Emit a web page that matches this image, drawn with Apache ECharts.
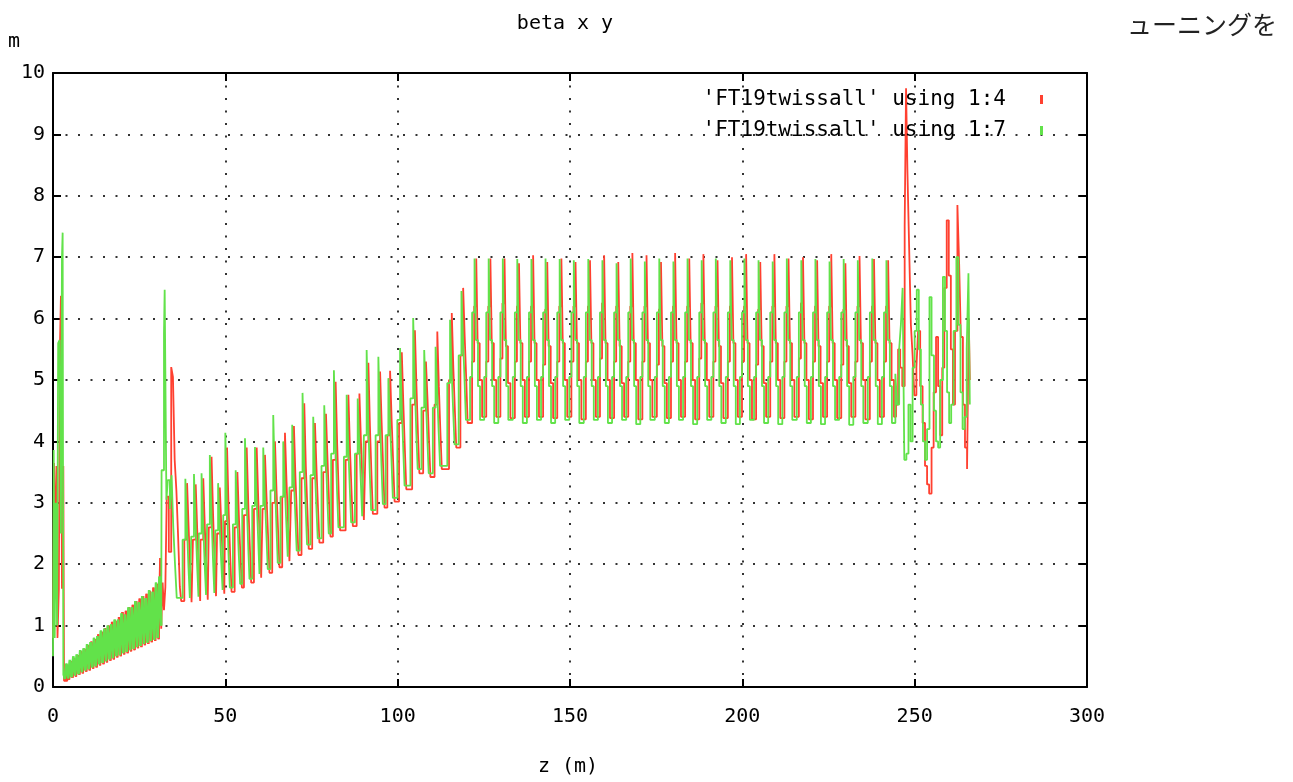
<!DOCTYPE html>
<html>
<head>
<meta charset="utf-8">
<script src="https://cdn.jsdelivr.net/npm/echarts/dist/echarts.min.js"></script>
<style>
html,body{margin:0;padding:0;background:#fff;}
#chart{width:1293px;height:782px;}
</style>
</head>
<body>
<div id="chart"></div>
<script>
// ---- data (z [m], beta [m]) ----
const xTicks = {min: 0, max: 300, step: 50};
const yTicks = {min: 0, max: 10, step: 1};
const seriesNames = ["'FT19twissall' using 1:4", "'FT19twissall' using 1:7"];

// red: column 4
const redStart = [[0,0.8],[0.3,3.65],[0.7,2.2],[1.0,3.6],[1.3,0.8],[1.7,1.6],[2.0,5.5],[2.3,6.37],[2.6,1.6],[3.0,3.6],[3.2,0.1]];
const redBand = [[3.65,0.1],[4.15,0.36],[4.65,0.12],[5.15,0.42],[5.65,0.15],[6.15,0.47],[6.65,0.17],[7.15,0.52],[7.65,0.2],[8.15,0.58],[8.65,0.22],[9.15,0.62],[9.65,0.25],[10.15,0.68],[10.65,0.27],[11.15,0.74],[11.65,0.3],[12.15,0.78],[12.65,0.32],[13.15,0.86],[13.65,0.35],[14.15,0.9],[14.65,0.37],[15.15,0.96],[15.65,0.4],[16.15,1.0],[16.65,0.43],[17.15,1.06],[17.65,0.45],[18.15,1.08],[18.65,0.48],[19.15,1.14],[19.65,0.5],[20.15,1.22],[20.65,0.53],[21.15,1.24],[21.65,0.55],[22.15,1.3],[22.65,0.58],[23.15,1.34],[23.65,0.6],[24.15,1.4],[24.65,0.63],[25.15,1.44],[25.65,0.65],[26.15,1.48],[26.65,0.68],[27.15,1.52],[27.65,0.7],[28.15,1.56],[28.65,0.73],[29.15,1.62],[29.65,0.75],[30.15,1.68],[30.65,0.78],[31.15,2.1]];
const redRise = [[31.4,0.95],[31.8,1.7],[32.2,1.25],[32.6,1.63],[33.0,3.1],[33.6,2.2],[34.3,5.21],[34.8,5.05],[35.3,3.7],[35.8,3.2],[36.3,2.45],[36.8,1.63],[37.2,1.4],
[38.1,2.4],[38.9,3.32],[39.35,2.6],[39.8,1.9],[40.2,1.38],
[40.6,2.4],[41.4,3.3],[41.85,2.55],[42.3,1.9],[42.7,1.4],
[42.8,2.4],[43.6,3.4],[44.05,2.6],[44.5,1.95],[44.9,1.42],
[45.2,2.6],[46.0,3.75],[46.45,2.8],[46.9,2.0],[47.3,1.48],
[47.6,2.5],[48.4,3.25],[48.85,2.6],[49.3,2.0],[49.7,1.52],
[49.9,2.7],[50.5,3.9],[50.95,2.9],[51.4,2.15],[51.8,1.55],
[52.7,2.6],[53.5,3.5],[53.95,2.75],[54.4,2.1],[54.8,1.62],
[55.4,2.8],[56.2,3.9],[56.65,3.0],[57.1,2.3],[57.5,1.7],
[58.3,2.9],[59.1,3.9],[59.55,3.05],[60.0,2.4],[60.4,1.78],
[60.8,2.9],[61.5,3.78],[61.95,3.1],[62.4,2.45],[62.8,1.86],
[63.6,3.0],[64.4,4.0],[64.85,3.2],[65.3,2.55],[65.7,1.95],
[66.5,3.1],[67.3,4.14],[67.75,3.35],[68.2,2.65],[68.6,2.05],
[69.1,3.2],[69.9,4.25],[70.35,3.4],[70.8,2.75],[71.2,2.15],
[72.1,3.4],[72.9,4.62],[73.35,3.6],[73.8,2.9],[74.2,2.25],
[75.2,3.4],[76.0,4.3],[76.45,3.55],[76.9,2.9],[77.3,2.35],
[78.4,3.5],[79.2,4.45],[79.65,3.7],[80.1,3.0],[80.5,2.45],
[81.2,3.7],[82.0,4.97],[82.45,3.95],[82.9,3.15],[83.3,2.55],
[84.9,3.7],[85.7,4.76],[86.15,3.9],[86.6,3.2],[87.0,2.62],
[88.1,3.8],[88.9,4.78],[89.35,4.0],[89.8,3.3],[90.2,2.72],
[90.7,4.0],[91.5,5.28],[91.95,4.25],[92.4,3.45],[92.8,2.82],
[94.1,4.0],[94.9,5.14],[95.35,4.3],[95.8,3.55],[96.2,2.92],
[97.0,4.1],[97.8,5.15],[98.25,4.35],[98.7,3.65],[99.1,3.02],
[100.4,4.3],[101.2,5.45],[101.65,4.6],[102.1,3.85],[102.5,3.22],
[104.2,4.6],[105.0,5.81],[105.45,4.9],[105.9,4.1],[106.3,3.48],
[107.4,4.5],[108.2,5.3],[108.65,4.7],[109.1,4.0],[109.5,3.42],
[110.7,4.6],[111.5,5.79],[111.95,4.9],[112.4,4.15],[112.8,3.55],
[114.9,5.0],[115.7,6.09],[116.15,5.2],[116.6,4.5],[117.0,3.9],
[118.2,5.4],[119.0,6.5],[119.45,5.7],[119.9,5.0],[120.3,4.3]];
const redFlat = [
[121.6,5.3],[122.2,6.2],[122.8,6.98],[123.2,5.6],[123.8,5.0],[124.5,4.4],
[125.7,5.3],[126.3,6.2],[126.9,6.98],[127.3,5.6],[127.9,5.0],[128.6,4.4],
[129.8,5.35],[130.4,6.25],[131.0,6.98],[131.4,5.55],[132.0,4.95],[132.7,4.38],
[134.0,5.3],[134.6,6.2],[135.2,6.9],[135.6,5.6],[136.2,5.0],[136.9,4.4],
[138.1,5.3],[138.7,6.2],[139.3,7.03],[139.7,5.6],[140.3,5.0],[141.0,4.4],
[142.2,5.25],[142.8,6.15],[143.4,6.92],[143.8,5.55],[144.4,4.95],[145.1,4.38],
[146.3,5.3],[146.9,6.2],[147.5,6.98],[147.9,5.6],[148.5,5.0],[149.2,4.4],
[150.4,5.3],[151.0,6.2],[151.6,6.92],[152.0,5.6],[152.6,5.0],[153.3,4.36],
[154.6,5.3],[155.2,6.2],[155.8,6.95],[156.2,5.6],[156.8,5.0],[157.5,4.4],
[158.7,5.35],[159.3,6.25],[159.9,7.03],[160.3,5.6],[160.9,5.0],[161.6,4.38],
[162.8,5.3],[163.4,6.2],[164.0,6.92],[164.4,5.55],[165.0,4.95],[165.7,4.4],
[166.9,5.3],[167.5,6.2],[168.1,7.07],[168.5,5.6],[169.1,5.0],[169.8,4.36],
[171.0,5.3],[171.6,6.2],[172.2,7.03],[172.6,5.6],[173.2,5.0],[173.9,4.4],
[175.2,5.25],[175.8,6.15],[176.4,6.92],[176.8,5.55],[177.4,4.95],[178.1,4.38],
[179.3,5.3],[179.9,6.2],[180.5,7.07],[180.9,5.6],[181.5,5.0],[182.2,4.4],
[183.4,5.3],[184.0,6.2],[184.6,6.98],[185.0,5.6],[185.6,5.0],[186.3,4.36],
[187.5,5.35],[188.1,6.25],[188.7,7.05],[189.1,5.6],[189.7,5.0],[190.4,4.4],
[191.6,5.3],[192.2,6.2],[192.8,6.95],[193.2,5.55],[193.8,4.95],[194.5,4.38],
[195.8,5.3],[196.4,6.2],[197.0,7.0],[197.4,5.6],[198.0,5.0],[198.7,4.4],
[199.9,5.3],[200.5,6.2],[201.1,7.05],[201.5,5.6],[202.1,5.0],[202.8,4.36],
[204.0,5.25],[204.6,6.15],[205.2,6.92],[205.6,5.55],[206.2,4.95],[206.9,4.4],
[208.1,5.3],[208.7,6.2],[209.3,7.05],[209.7,5.6],[210.3,5.0],[211.0,4.38],
[212.2,5.3],[212.8,6.2],[213.4,6.98],[213.8,5.6],[214.4,5.0],[215.1,4.4],
[216.4,5.35],[217.0,6.25],[217.6,7.0],[218.0,5.6],[218.6,5.0],[219.3,4.36],
[220.5,5.3],[221.1,6.2],[221.7,6.95],[222.1,5.55],[222.7,4.95],[223.4,4.4],
[224.6,5.3],[225.2,6.2],[225.8,7.05],[226.2,5.6],[226.8,5.0],[227.5,4.38],
[228.7,5.25],[229.3,6.15],[229.9,6.9],[230.3,5.55],[230.9,4.95],[231.6,4.4],
[232.8,5.3],[233.4,6.2],[234.0,7.02],[234.4,5.6],[235.0,5.0],[235.7,4.36],
[237.0,5.3],[237.6,6.2],[238.2,6.97],[238.6,5.6],[239.2,5.0],[239.9,4.4],
[241.1,5.3],[241.7,6.2],[242.3,6.95],[242.7,5.6],[243.3,5.0],[244.0,4.4]];
const redEnd = [[244.6,4.6],[245.2,5.5],[245.8,5.2],[246.4,4.9],[247.1,7.5],[247.5,9.75],[247.9,8.4],[248.4,7.15],[248.9,5.9],[249.4,5.4],[249.9,4.75],[250.5,5.2],[251.0,5.8],[251.6,4.9],[252.3,4.3],[253.0,3.6],[253.6,3.3],[254.2,3.15],[254.9,3.9],[255.5,4.8],[256.2,5.7],[256.8,4.9],[257.4,4.1],[258.0,5.2],[258.6,6.5],[259.3,7.6],[259.9,6.7],[260.5,5.5],[261.1,4.6],[261.7,5.8],[262.4,7.85],[262.9,6.9],[263.4,5.7],[264.0,4.6],[264.6,3.9],[265.2,3.55],[265.7,6.0],[266.0,5.0]];

// green: column 7
const greenStart = [[0,0.5],[0.2,3.86],[0.5,0.8],[0.8,3.0],[1.2,1.0],[1.5,5.6],[1.9,5.65],[2.3,2.5],[2.6,7.0],[2.8,7.4],[3.0,0.2]];
const greenBand = [[3.4,0.13],[3.9,0.38],[4.4,0.14],[4.9,0.44],[5.4,0.16],[5.9,0.5],[6.4,0.19],[6.9,0.53],[7.4,0.21],[7.9,0.6],[8.4,0.24],[8.9,0.63],[9.4,0.27],[9.9,0.7],[10.4,0.29],[10.9,0.73],[11.4,0.32],[11.9,0.8],[12.4,0.34],[12.9,0.83],[13.4,0.37],[13.9,0.92],[14.4,0.39],[14.9,0.95],[15.4,0.42],[15.9,1.0],[16.4,0.45],[16.9,1.02],[17.4,0.47],[17.9,1.1],[18.4,0.5],[18.9,1.1],[19.4,0.52],[19.9,1.2],[20.4,0.55],[20.9,1.18],[21.4,0.57],[21.9,1.3],[22.4,0.6],[22.9,1.3],[23.4,0.62],[23.9,1.4],[24.4,0.65],[24.9,1.38],[25.4,0.67],[25.9,1.48],[26.4,0.7],[26.9,1.45],[27.4,0.72],[27.9,1.58],[28.4,0.75],[28.9,1.55],[29.4,0.77],[29.9,1.7],[30.4,0.8],[30.9,1.8],[31.4,1.0]];
const greenRise = [[31.5,3.53],[32.2,5.77],[32.4,6.47],[32.9,3.05],[33.3,3.37],[33.9,2.9],[34.4,3.45],[34.9,2.6],[35.4,2.0],[35.9,1.45],
[37.6,2.4],[38.4,3.39],[38.85,2.65],[39.3,1.95],[39.7,1.45],
[40.1,2.45],[40.9,3.47],[41.35,2.7],[41.8,2.0],[42.2,1.47],
[42.3,2.5],[43.1,3.48],[43.55,2.7],[44.0,2.0],[44.4,1.5],
[44.7,2.65],[45.5,3.78],[45.95,2.9],[46.4,2.1],[46.8,1.53],
[47.1,2.55],[47.9,3.32],[48.35,2.65],[48.8,2.05],[49.2,1.58],
[49.4,2.8],[50.0,4.14],[50.45,3.0],[50.9,2.2],[51.3,1.62],
[52.2,2.65],[53.0,3.53],[53.45,2.8],[53.9,2.15],[54.3,1.68],
[54.9,2.9],[55.7,4.05],[56.15,3.1],[56.6,2.35],[57.0,1.76],
[57.8,2.95],[58.6,3.91],[59.05,3.1],[59.5,2.45],[59.9,1.84],
[60.2,2.95],[61.0,3.9],[61.45,3.15],[61.9,2.5],[62.3,1.92],
[63.1,3.2],[63.9,4.43],[64.35,3.4],[64.8,2.65],[65.2,2.02],
[66.0,3.1],[66.8,4.0],[67.25,3.3],[67.7,2.65],[68.1,2.12],
[68.6,3.25],[69.4,4.27],[69.85,3.45],[70.3,2.8],[70.7,2.22],
[71.6,3.5],[72.4,4.79],[72.85,3.7],[73.3,2.95],[73.7,2.32],
[74.7,3.45],[75.5,4.4],[75.95,3.6],[76.4,2.95],[76.8,2.42],
[77.9,3.6],[78.7,4.59],[79.15,3.8],[79.6,3.05],[80.0,2.5],
[80.7,3.8],[81.5,5.16],[81.95,4.05],[82.4,3.2],[82.8,2.6],
[84.4,3.75],[85.2,4.76],[85.65,3.95],[86.1,3.25],[86.5,2.68],
[87.6,3.8],[88.4,4.7],[88.85,4.0],[89.3,3.35],[89.7,2.78],
[90.2,4.1],[91.0,5.49],[91.45,4.35],[91.9,3.5],[92.3,2.88],
[93.6,4.1],[94.4,5.38],[94.85,4.4],[95.3,3.6],[95.7,2.98],
[96.5,4.1],[97.3,5.03],[97.75,4.35],[98.2,3.7],[98.6,3.08],
[99.9,4.35],[100.7,5.52],[101.15,4.65],[101.6,3.9],[102.0,3.28],
[103.7,4.7],[104.5,6.01],[104.95,5.0],[105.4,4.15],[105.8,3.55],
[106.9,4.55],[107.7,5.49],[108.15,4.75],[108.6,4.05],[109.0,3.48],
[110.2,4.55],[111.0,5.54],[111.45,4.85],[111.9,4.15],[112.3,3.6],
[114.4,4.95],[115.2,5.98],[115.65,5.15],[116.1,4.5],[116.5,3.95],
[117.7,5.4],[118.5,6.45],[118.95,5.7],[119.4,5.0],[119.8,4.35]];
const greenFlat = [
[121.0,5.05],[121.6,6.1],[122.3,6.98],[122.7,5.65],[123.3,4.9],[123.9,4.35],
[125.1,5.05],[125.7,6.1],[126.4,6.98],[126.8,5.65],[127.4,4.9],[128.0,4.3],
[129.2,5.05],[129.8,6.1],[130.5,6.98],[130.9,5.65],[131.5,4.9],[132.1,4.35],
[133.4,5.05],[134.0,6.1],[134.7,6.97],[135.1,5.65],[135.7,4.9],[136.3,4.3],
[137.5,5.05],[138.1,6.1],[138.8,6.97],[139.2,5.65],[139.8,4.9],[140.4,4.35],
[141.6,5.05],[142.2,6.1],[142.9,6.98],[143.3,5.65],[143.9,4.9],[144.5,4.3],
[145.7,5.05],[146.3,6.1],[147.0,6.97],[147.4,5.65],[148.0,4.9],[148.6,4.35],
[149.8,5.05],[150.4,6.1],[151.1,6.95],[151.5,5.65],[152.1,4.9],[152.7,4.3],
[154.0,5.05],[154.6,6.1],[155.3,6.97],[155.7,5.65],[156.3,4.9],[156.9,4.35],
[158.1,5.05],[158.7,6.1],[159.4,6.95],[159.8,5.65],[160.4,4.9],[161.0,4.3],
[162.2,5.05],[162.8,6.1],[163.5,6.9],[163.9,5.65],[164.5,4.9],[165.1,4.35],
[166.3,5.05],[166.9,6.1],[167.6,6.98],[168.0,5.65],[168.6,4.9],[169.2,4.28],
[170.4,5.05],[171.0,6.1],[171.7,6.93],[172.1,5.65],[172.7,4.9],[173.3,4.35],
[174.6,5.05],[175.2,6.1],[175.9,6.98],[176.3,5.65],[176.9,4.9],[177.5,4.3],
[178.7,5.05],[179.3,6.1],[180.0,6.93],[180.4,5.65],[181.0,4.9],[181.6,4.35],
[182.8,5.05],[183.4,6.1],[184.1,6.98],[184.5,5.65],[185.1,4.9],[185.7,4.28],
[186.9,5.05],[187.5,6.1],[188.2,6.95],[188.6,5.65],[189.2,4.9],[189.8,4.35],
[191.0,5.05],[191.6,6.1],[192.3,6.98],[192.7,5.65],[193.3,4.9],[193.9,4.3],
[195.2,5.05],[195.8,6.1],[196.5,6.95],[196.9,5.65],[197.5,4.9],[198.1,4.28],
[199.3,5.05],[199.9,6.1],[200.6,6.98],[201.0,5.65],[201.6,4.9],[202.2,4.35],
[203.4,5.05],[204.0,6.1],[204.7,6.95],[205.1,5.65],[205.7,4.9],[206.3,4.3],
[207.5,5.05],[208.1,6.1],[208.8,6.93],[209.2,5.65],[209.8,4.9],[210.4,4.28],
[211.6,5.05],[212.2,6.1],[212.9,6.98],[213.3,5.65],[213.9,4.9],[214.5,4.35],
[215.8,5.05],[216.4,6.1],[217.1,6.95],[217.5,5.65],[218.1,4.9],[218.7,4.3],
[219.9,5.05],[220.5,6.1],[221.2,6.97],[221.6,5.65],[222.2,4.9],[222.8,4.28],
[224.0,5.05],[224.6,6.1],[225.3,6.93],[225.7,5.65],[226.3,4.9],[226.9,4.35],
[228.1,5.05],[228.7,6.1],[229.4,6.97],[229.8,5.65],[230.4,4.9],[231.0,4.27],
[232.2,5.05],[232.8,6.1],[233.5,6.95],[233.9,5.65],[234.5,4.9],[235.1,4.3],
[236.4,5.05],[237.0,6.1],[237.7,6.98],[238.1,5.65],[238.7,4.9],[239.3,4.28],
[240.5,5.05],[241.1,6.1],[241.8,6.95],[242.2,5.65],[242.8,4.9],[243.4,4.3]];
const greenEnd = [[244.4,5.1],[244.9,4.6],[245.5,5.5],[246.0,5.9],[246.5,6.5],[247.0,3.7],[247.6,3.8],[248.2,4.6],[248.8,4.0],[249.4,5.2],[250.0,5.8],[250.6,6.47],[251.2,5.5],[251.8,4.6],[252.4,4.0],[253.0,3.7],[253.6,4.2],[254.3,6.35],[254.9,5.4],[255.6,4.5],[256.2,4.0],[256.8,3.9],[257.4,5.0],[258.2,6.68],[258.8,5.8],[259.4,4.8],[260.0,4.3],[260.6,4.6],[261.3,5.8],[262.1,7.0],[262.7,5.9],[263.3,4.8],[263.9,4.2],[264.5,4.4],[265.1,5.5],[265.6,6.74],[266.0,4.6]];

const redData = [].concat(redStart, redBand, redRise, redFlat, redEnd);
const greenData = [].concat(greenStart, greenBand, greenRise, greenFlat, greenEnd);

// ---- chart ----
const mono = '"DejaVu Sans Mono", "Liberation Mono", monospace';
const RED = '#ff4030', GREEN = '#62e24a';
const chart = echarts.init(document.getElementById('chart'), null, {renderer: 'canvas'});
const dotted = {color: '#333', width: 2, type: [2, 10.5]};
const border = {color: '#000', width: 2};
const tick = {inside: true, length: 8, lineStyle: {color: '#000', width: 2}};

function lineSeries(name, data, color, width, z) {
  return {name: name, type: 'line', data: data, step: 'end', showSymbol: false,
    xAxisIndex: 0, yAxisIndex: 0, lineStyle: {color: color, width: width},
    itemStyle: {color: color}, z: z, silent: true};
}

const option = {
  animation: false,
  backgroundColor: '#fff',
  grid: {left: 53, right: 206, top: 73, bottom: 95},
  xAxis: [
    {type: 'value', min: xTicks.min, max: xTicks.max, interval: xTicks.step, position: 'bottom',
     axisLine: {onZero: false, lineStyle: border}, axisTick: tick,
     axisLabel: {margin: 20, color: '#000', fontFamily: mono, fontSize: 20},
     splitLine: {show: true, lineStyle: dotted}},
    {type: 'value', min: xTicks.min, max: xTicks.max, interval: xTicks.step, position: 'top',
     axisLine: {onZero: false, lineStyle: border}, axisTick: tick,
     axisLabel: {show: false}, splitLine: {show: false}}
  ],
  yAxis: [
    {type: 'value', min: yTicks.min, max: yTicks.max, interval: yTicks.step, position: 'left',
     axisLine: {show: true, onZero: false, lineStyle: border}, axisTick: tick,
     axisLabel: {margin: 8, color: '#000', fontFamily: mono, fontSize: 20},
     splitLine: {show: true, lineStyle: dotted}},
    {type: 'value', min: yTicks.min, max: yTicks.max, interval: yTicks.step, position: 'right',
     axisLine: {show: true, onZero: false, lineStyle: border}, axisTick: tick,
     axisLabel: {show: false}, splitLine: {show: false}}
  ],
  legend: {
    orient: 'vertical', right: 245, top: 84, align: 'right', itemGap: 10,
    icon: 'rect', itemWidth: 3, itemHeight: 9,
    textStyle: {fontFamily: mono, fontSize: 21, color: '#000', padding: [0, 29, 0, 0]},
    data: seriesNames
  },
  series: [
    lineSeries(seriesNames[0], redData, RED, 1.8, 2),
    lineSeries(seriesNames[0], redBand, RED, 2.4, 2),
    lineSeries(seriesNames[1], greenData, GREEN, 1.8, 3),
    lineSeries(seriesNames[1], greenBand, GREEN, 2.6, 3)
  ],
  graphic: [
    {type: 'text', x: 565, y: 24, style: {text: 'beta x y', fill: '#000', font: '20px ' + mono, textAlign: 'center', textVerticalAlign: 'middle'}},
    {type: 'text', x: 8, y: 42, style: {text: 'm', fill: '#000', font: '20px ' + mono, textAlign: 'left', textVerticalAlign: 'middle'}},
    {type: 'text', x: 568, y: 767, style: {text: 'z (m)', fill: '#000', font: '20px ' + mono, textAlign: 'center', textVerticalAlign: 'middle'}},
    {type: 'text', x: 1127, y: 24, style: {text: 'ューニングを', fill: '#222', font: '25px "Noto Sans CJK JP"', textAlign: 'left', textVerticalAlign: 'middle'}}
  ]
};
chart.setOption(option);
</script>
</body>
</html>
